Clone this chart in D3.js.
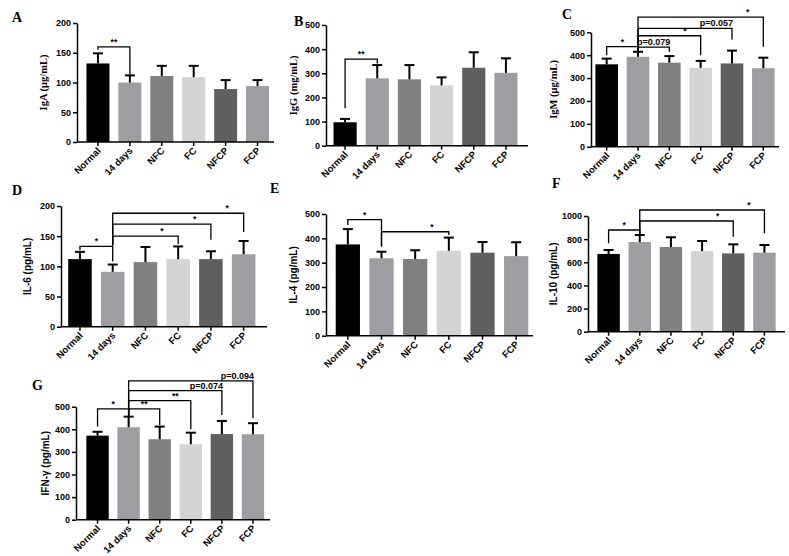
<!DOCTYPE html>
<html>
<head>
<meta charset="utf-8">
<script src="https://cdn.jsdelivr.net/npm/d3@7"></script>
<style>
  body { margin: 0; background: #fff; }
  svg { display: block; }
  .tick text { font-family: Arial, "Liberation Sans", sans-serif; font-weight: bold; }
</style>
</head>
<body>
<svg width="789" height="556"></svg>
<script>
// groups on the x axis
var categories = ["Normal", "14 days", "NFC", "FC", "NFCP", "FCP"];

// means and SD per panel
var igaMean = [132, 100, 111, 109, 89, 94];
var igaSD   = [17, 12, 17, 19, 15, 10];
var iggMean = [97, 279, 275, 250, 323, 302];
var iggSD   = [14, 55, 59, 33, 64, 60];
var igmMean = [360, 393, 367, 345, 364, 343];
var igmSD   = [25, 22, 29, 30, 56, 46];
var il6Mean = [112, 91, 107, 112, 112, 120];
var il6SD   = [12, 12, 25, 21, 13, 22];
var il4Mean = [375, 318, 315, 349, 341, 327];
var il4SD   = [63, 27, 36, 54, 44, 57];
var il10Mean = [672, 775, 732, 697, 677, 683];
var il10SD   = [34, 61, 84, 87, 78, 66];
var ifnMean = [372, 409, 356, 334, 379, 378];
var ifnSD   = [17, 47, 56, 51, 58, 49];

// y axis max and tick step
var yMax  = [200, 500, 500, 200, 500, 1000, 500];
var yStep = [50, 100, 100, 50, 100, 200, 100];

// significance brackets: [from, to, level, text, left leg end, right leg end]
var igaSig = [[0, 1, 160, "**", 155, 114]];
var iggSig = [[0, 1, 359, "**", 155, 340]];
var igmSig = [[0, 1, 437, "*", 400, 420], [1, 2, 435, "p=0.079", 420, 415], [1, 3, 485, "*", 420, 400],
              [1, 4, 517, "p=0.057", 420, 469], [1, 5, 566, "*", 420, 437]];
var il6Sig = [[0, 1, 133, "*", 127, 108], [1, 3, 150, "*", 135, 137], [1, 4, 170, "*", 135, 144],
              [1, 5, 188, "*", 135, 157]];
var il4Sig = [[0, 1, 477, "*", 455, 366], [1, 3, 427, "*", 366, 414]];
var il10Sig = [[0, 1, 879, "*", 764, 845], [1, 4, 957, "*", 845, 821], [1, 5, 1052, "*", 845, 850]];
var ifnSig = [[0, 1, 490, "*", 412, 460], [1, 2, 490, "**", 460, 419], [1, 3, 527, "**", 460, 400],
              [1, 4, 571, "p=0.074", 460, 463], [1, 5, 614, "p=0.094", 460, 449]];

var barColors = ["#000000", "#9e9ea2", "#808080", "#d4d4d4", "#606060", "#9e9ea2"];

var panels = [
  {letter: "A", title: "IgA (\u03bcg/mL)", serif: true, mean: igaMean, sd: igaSD, sig: igaSig,
   x0: 77, x1: 274, band: [82, 273.5], yTop: 23, yBot: 142, lx: 12, ly: 22, tx: 43},
  {letter: "B", title: "IgG (mg/mL)", serif: true, mean: iggMean, sd: iggSD, sig: iggSig,
   x0: 326, x1: 528, band: [329, 522], yTop: 25, yBot: 145.7, lx: 294, ly: 26, tx: 293},
  {letter: "C", title: "IgM (\u03bcg/mL)", serif: true, mean: igmMean, sd: igmSD, sig: igmSig,
   x0: 591, x1: 779, band: [591, 779], yTop: 32.3, yBot: 146.7, lx: 562, ly: 19, tx: 553},
  {letter: "D", title: "IL-6 (pg/mL)", serif: false, mean: il6Mean, sd: il6SD, sig: il6Sig,
   x0: 61, x1: 267, band: [63.6, 260], yTop: 206, yBot: 326.7, lx: 12, ly: 195, tx: 27},
  {letter: "E", title: "IL-4 (pg/mL)", serif: false, mean: il4Mean, sd: il4SD, sig: il4Sig,
   x0: 326, x1: 533, band: [331, 533], yTop: 214, yBot: 335.7, lx: 270, ly: 193, tx: 293},
  {letter: "F", title: "IL-10 (pg/mL)", serif: false, mean: il10Mean, sd: il10SD, sig: il10Sig,
   x0: 588, x1: 785, band: [593, 780], yTop: 216, yBot: 331.7, lx: 552, ly: 188, tx: 553},
  {letter: "G", title: "IFN-\u03b3 (pg/mL)", serif: false, mean: ifnMean, sd: ifnSD, sig: ifnSig,
   x0: 76, x1: 270, band: [82, 268.5], yTop: 406.7, yBot: 519.7, lx: 32, ly: 390, tx: 45}
];

var svg = d3.select("svg");
var serifFont = "'Liberation Serif', 'Times New Roman', serif";
var sansFont = "Arial, 'Liberation Sans', sans-serif";

panels.forEach(function(p, k) {
  var g = svg.append("g");
  var x = d3.scaleBand().domain(categories).range(p.band).paddingInner(0.28).paddingOuter(0.14);
  var y = d3.scaleLinear().domain([0, yMax[k]]).range([p.yBot, p.yTop]);
  var cx = function(i) { return x(categories[i]) + x.bandwidth() / 2; };

  // bars
  g.selectAll("rect.bar").data(p.mean).enter()
    .append("rect")
      .attr("class", "bar")
      .attr("x", function(d, i) { return x(categories[i]); })
      .attr("y", function(d) { return y(d); })
      .attr("width", x.bandwidth())
      .attr("height", function(d) { return y(0) - y(d); })
      .attr("fill", function(d, i) { return barColors[i]; });

  // error bars (upper only)
  var err = g.selectAll("g.err").data(p.mean).enter().append("g").attr("class", "err");
  err.append("line")
    .attr("x1", function(d, i) { return cx(i); })
    .attr("x2", function(d, i) { return cx(i); })
    .attr("y1", function(d) { return y(d); })
    .attr("y2", function(d, i) { return y(d + p.sd[i]); })
    .attr("stroke", "#000").attr("stroke-width", 2);
  err.append("line")
    .attr("x1", function(d, i) { return cx(i) - 5; })
    .attr("x2", function(d, i) { return cx(i) + 5; })
    .attr("y1", function(d, i) { return y(d + p.sd[i]); })
    .attr("y2", function(d, i) { return y(d + p.sd[i]); })
    .attr("stroke", "#000").attr("stroke-width", 2);

  // y axis
  var yAxis = g.append("g").attr("transform", "translate(" + p.x0 + ",0)")
    .call(d3.axisLeft(y).tickValues(d3.range(0, yMax[k] + 1, yStep[k]))
      .tickFormat(d3.format("d")).tickSize(4).tickPadding(2).tickSizeOuter(0));
  yAxis.select(".domain").attr("stroke-width", 1.5);
  yAxis.selectAll(".tick line").attr("stroke-width", 1.5);
  yAxis.selectAll(".tick text").attr("font-size", 9).attr("fill", "#000");

  // x axis
  var xAxis = g.append("g").attr("transform", "translate(0," + p.yBot + ")")
    .call(d3.axisBottom(x).tickSize(4).tickSizeOuter(0));
  xAxis.select(".domain").attr("d", "M" + p.x0 + ",0H" + p.x1).attr("stroke-width", 1.5);
  xAxis.selectAll(".tick line").attr("stroke-width", 1.5);
  xAxis.selectAll(".tick text")
    .attr("font-size", 9.5).attr("fill", "#000")
    .attr("text-anchor", "end")
    .attr("x", 0).attr("y", 0)
    .attr("dy", "0.35em")
    .attr("transform", "translate(1,7) rotate(-45)");

  // y title
  g.append("text")
    .attr("transform", "translate(" + p.tx + "," + ((p.yTop + p.yBot) / 2) + ") rotate(-90)")
    .attr("text-anchor", "middle")
    .attr("dy", "0.35em")
    .attr("font-family", p.serif ? serifFont : sansFont)
    .attr("font-weight", "bold")
    .attr("font-size", p.serif ? 10.5 : 10)
    .text(p.title);

  // panel letter
  g.append("text")
    .attr("x", p.lx).attr("y", p.ly)
    .attr("font-family", serifFont)
    .attr("font-weight", "bold")
    .attr("font-size", 14)
    .text(p.letter);

  // significance brackets
  p.sig.forEach(function(s) {
    var xa = cx(s[0]), xb = cx(s[1]), yl = y(s[2]);
    g.append("path")
      .attr("d", "M" + xa + "," + y(s[4]) + "V" + yl + "H" + xb + "V" + y(s[5]))
      .attr("fill", "none").attr("stroke", "#000").attr("stroke-width", 1.3);
    var tx = (cx(Math.max(s[0], s[1] - 1)) + xb) / 2;
    if (s[1] - s[0] === 1) tx = (xa + xb) / 2;
    g.append("text")
      .attr("x", tx).attr("y", yl - 2)
      .attr("text-anchor", "middle")
      .attr("font-family", sansFont)
      .attr("font-weight", "bold")
      .attr("font-size", s[3].charAt(0) === "p" ? 9 : 8.5)
      .text(s[3]);
  });
});
</script>
</body>
</html>
